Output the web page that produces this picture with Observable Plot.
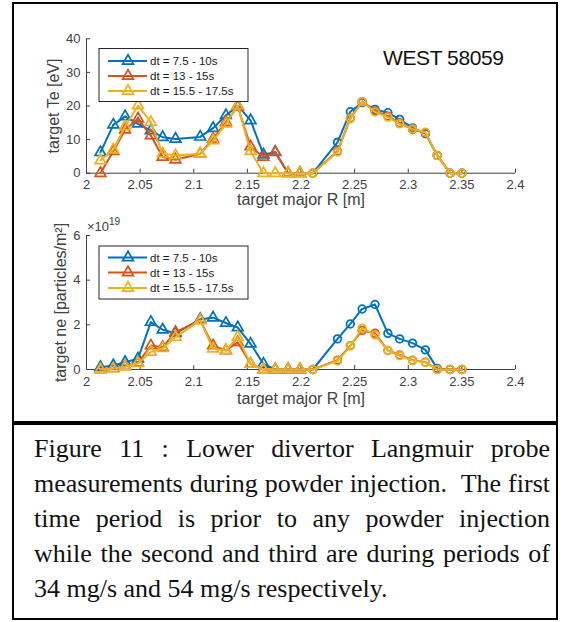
<!DOCTYPE html>
<html>
<head>
<meta charset="utf-8">
<script src="https://cdn.jsdelivr.net/npm/d3@7"></script>
<script src="https://cdn.jsdelivr.net/npm/@observablehq/plot@0.6"></script>
<style>
  html, body { margin: 0; padding: 0; background: #fff; }
  body { width: 566px; height: 622px; position: relative; overflow: hidden; font-family: "Liberation Sans", Arial, sans-serif; }
  #chartbox { position: absolute; left: 12px; top: 2px; width: 542px; height: 417px; border: 2px solid #000; }
  #capbox { position: absolute; left: 12px; top: 423px; width: 542px; height: 193px; border: 2px solid #000; }
  #caption { position: absolute; left: 20px; top: 6px; width: 516px; font-family: "Liberation Serif", "Times New Roman", serif; font-size: 26px; line-height: 35px; color: #111; }
  #caption div { text-align: justify; text-align-last: justify; white-space: nowrap; }
  #caption div.last { text-align: left; text-align-last: left; }
  #top { position: absolute; left: 0; top: 0; }
  #bot { position: absolute; left: 0; top: 215px; }
</style>
</head>
<body>
<div id="chartbox"></div>
<div id="capbox">
  <div id="caption"></div>
</div>
<div id="top"></div>
<div id="bot"></div>
<script>
// ---------------- data ----------------
const seriesNames = ["dt = 7.5 - 10s", "dt = 13 - 15s", "dt = 15.5 - 17.5s"];
const seriesColors = ["#0072BD", "#D95319", "#EDB120"];

// probe positions (target major R, m)
const R = [2.013, 2.025, 2.036, 2.048, 2.060, 2.071, 2.083, 2.106, 2.118, 2.130, 2.141, 2.153, 2.165, 2.176,
           2.188, 2.199, 2.211, 2.234, 2.246, 2.257, 2.269, 2.281, 2.292, 2.304, 2.316, 2.327, 2.339, 2.350];

// target Te [eV]
const teBlue   = [6.2, 14.4, 16.9, 14.7, 12.7, 10.7, 10.2, 10.8, 13.4, 17.2, 20.1, 15.7, 5.5, 6.3,
                  0, 0, 0, 9.2, 18.3, 21.0, 19.0, 18.0, 16.0, 13.5, 11.8, 5.3, 0, 0];
const teRed    = [0, 6.5, 12.9, 16.2, 11.2, 4.8, 4.0, 5.8, 10.2, 15.2, 19.8, 7.9, 4.8, 6.2,
                  0, 0, 0, 6.6, 16.4, 21.3, 18.5, 17.0, 15.0, 13.0, 12.0, 5.3, 0, 0];
const teYellow = [3.8, 7.0, 13.9, 20.1, 15.2, 5.8, 5.3, 5.8, 9.7, 14.7, 20.1, 6.5, 0, 0,
                  0, 0, 0, 6.3, 16.2, 21.3, 18.2, 16.7, 14.7, 13.2, 12.2, 5.3, 0, 0];

// target ne [1e19 particles/m^2]
const neBlue   = [0.10, 0.18, 0.33, 0.48, 2.12, 1.78, 1.62, 2.25, 2.32, 2.08, 1.88, 1.15, 0.25, 0,
                  0, 0, 0, 1.37, 2.04, 2.71, 2.91, 1.62, 1.37, 1.18, 0.88, 0.05, 0, 0];
const neRed    = [0, 0.05, 0.15, 0.30, 1.07, 1.00, 1.67, 2.20, 1.07, 0.85, 1.22, 0.25, 0, 0,
                  0, 0, 0, 0.42, 1.07, 1.75, 1.62, 0.85, 0.65, 0.42, 0.33, 0, 0, 0];
const neYellow = [0, 0.03, 0.12, 0.28, 0.78, 0.95, 1.45, 2.20, 0.93, 0.85, 1.45, 0.25, 0, 0,
                  0, 0, 0, 0.38, 1.05, 1.85, 1.55, 0.85, 0.62, 0.40, 0.33, 0, 0, 0];

const rTicks = [2, 2.05, 2.1, 2.15, 2.2, 2.25, 2.3, 2.35, 2.4];
const teTicks = [0, 10, 20, 30, 40];
const neTicks = [0, 2, 4, 6];
const xLabel = "target major R [m]";
const teLabel = "target Te [eV]";
const neLabel = "target ne [particles/m²]";
const titleText = "WEST 58059";
const exponentBase = "×10";
const exponentPow = "19";

const captionLines = [
  "Figure 11 : Lower divertor Langmuir probe",
  "measurements during powder injection.\u00a0 The first",
  "time period is prior to any powder injection",
  "while the second and third are during periods of",
  "34 mg/s and 54 mg/s respectively."
];

// ---------------- drawing ----------------
const axisColor = "#404040";
const fontFam = "'Liberation Sans', Arial, Helvetica, sans-serif";

function rows(vals) {
  return vals.map((v, i) => ({R: R[i], v, sym: R[i] < 2.205 ? "triangle" : "circle"}));
}

function chart({series, yDomain, yTicks, yLabel, height, mt, mb, yLabelDx, xLabelDy}) {
  const marks = [
    Plot.ruleY([yDomain[0]], {stroke: axisColor, strokeWidth: 1}),
    Plot.ruleX([2], {stroke: axisColor, strokeWidth: 1}),
    Plot.axisX({ticks: rTicks, tickSize: -4, fill: "none", stroke: axisColor, label: null}),
    Plot.axisX({ticks: rTicks, tickSize: 0, tickPadding: 7, fill: axisColor, label: null, fontSize: 13,
                tickFormat: d => String(d)}),
    Plot.axisY({ticks: yTicks, tickSize: -4, fill: "none", stroke: axisColor, label: null}),
    Plot.axisY({ticks: yTicks, tickSize: 0, tickPadding: 6, fill: axisColor, label: null, fontSize: 13,
                tickFormat: d => String(d)}),
    Plot.text([xLabel], {frameAnchor: "bottom", dy: xLabelDy, fontSize: 16, fill: axisColor, textAnchor: "middle"}),
    Plot.text([yLabel], {frameAnchor: "left", rotate: -90, dx: yLabelDx, fontSize: 16, fill: axisColor,
                         textAnchor: "middle", lineAnchor: "middle"})
  ];
  series.forEach((vals, k) => {
    const d = rows(vals);
    marks.push(Plot.line(d, {x: "R", y: "v", stroke: seriesColors[k], strokeWidth: 2}));
    marks.push(Plot.dot(d.filter(p => p.sym === "triangle"),
      {x: "R", y: "v", symbol: "triangle", r: 4, stroke: seriesColors[k], strokeWidth: 1.7, fill: "none"}));
    marks.push(Plot.dot(d.filter(p => p.sym === "circle"),
      {x: "R", y: "v", symbol: "circle", r: 3.8, stroke: seriesColors[k], strokeWidth: 1.8, fill: "none"}));
  });
  return Plot.plot({
    width: 566, height,
    marginLeft: 86, marginRight: 51, marginTop: mt, marginBottom: mb,
    x: {domain: [2, 2.4]},
    y: {domain: yDomain},
    style: {fontFamily: fontFam, fontSize: "13px", background: "transparent", overflow: "visible"},
    marks
  });
}

function addLegend(svg, x0, y0, rowYs) {
  const g = d3.select(svg).append("g").attr("font-family", fontFam).attr("text-anchor", "start");
  g.append("rect").attr("x", x0).attr("y", y0).attr("width", 149).attr("height", 53)
    .attr("fill", "#fff").attr("stroke", "#262626").attr("stroke-width", 1);
  const sym = d3.symbol(d3.symbolTriangle, 4 * 4 * Math.PI);
  seriesNames.forEach((name, k) => {
    const y = rowYs[k];
    g.append("line").attr("x1", x0 + 9).attr("x2", x0 + 48).attr("y1", y).attr("y2", y)
      .attr("stroke", seriesColors[k]).attr("stroke-width", 2);
    g.append("path").attr("d", sym()).attr("transform", `translate(${x0 + 29},${y})`)
      .attr("fill", "none").attr("stroke", seriesColors[k]).attr("stroke-width", 1.7);
    g.append("text").attr("x", x0 + 51).attr("y", y).attr("dy", "0.35em")
      .attr("text-anchor", "start")
      .attr("font-size", 11.5).attr("fill", "#1a1a1a").text(name);
  });
  return g;
}

const topSvg = chart({
  series: [teBlue, teRed, teYellow], yDomain: [0, 40], yTicks: teTicks, yLabel: teLabel,
  height: 215, mt: 38.3, mb: 42.3, yLabelDx: -33, xLabelDy: 32
});
addLegend(topSvg, 99, 48.5, [61, 76, 91]);
d3.select(topSvg).append("text").attr("x", 383).attr("y", 65).attr("text-anchor", "start")
  .attr("font-family", fontFam).attr("font-size", 21).attr("fill", "#111")
  .attr("letter-spacing", "-0.4").text(titleText);
document.getElementById("top").appendChild(topSvg);

const botSvg = chart({
  series: [neBlue, neRed, neYellow], yDomain: [0, 6], yTicks: neTicks, yLabel: neLabel,
  height: 205, mt: 20, mb: 51, yLabelDx: -26, xLabelDy: 34
});
addLegend(botSvg, 99, 246 - 215, [257.5 - 215, 272.5 - 215, 288 - 215]);
const ex = d3.select(botSvg).append("text").attr("x", 87).attr("y", 231 - 215).attr("text-anchor", "start")
  .attr("font-family", fontFam).attr("font-size", 13).attr("fill", axisColor);
ex.append("tspan").text(exponentBase);
ex.append("tspan").attr("dy", -6).attr("font-size", 10).text(exponentPow);
document.getElementById("bot").appendChild(botSvg);

const cap = document.getElementById("caption");
captionLines.forEach((t, i) => {
  const d = document.createElement("div");
  if (i === captionLines.length - 1) d.className = "last";
  d.textContent = t;
  cap.appendChild(d);
});
</script>
</body>
</html>
